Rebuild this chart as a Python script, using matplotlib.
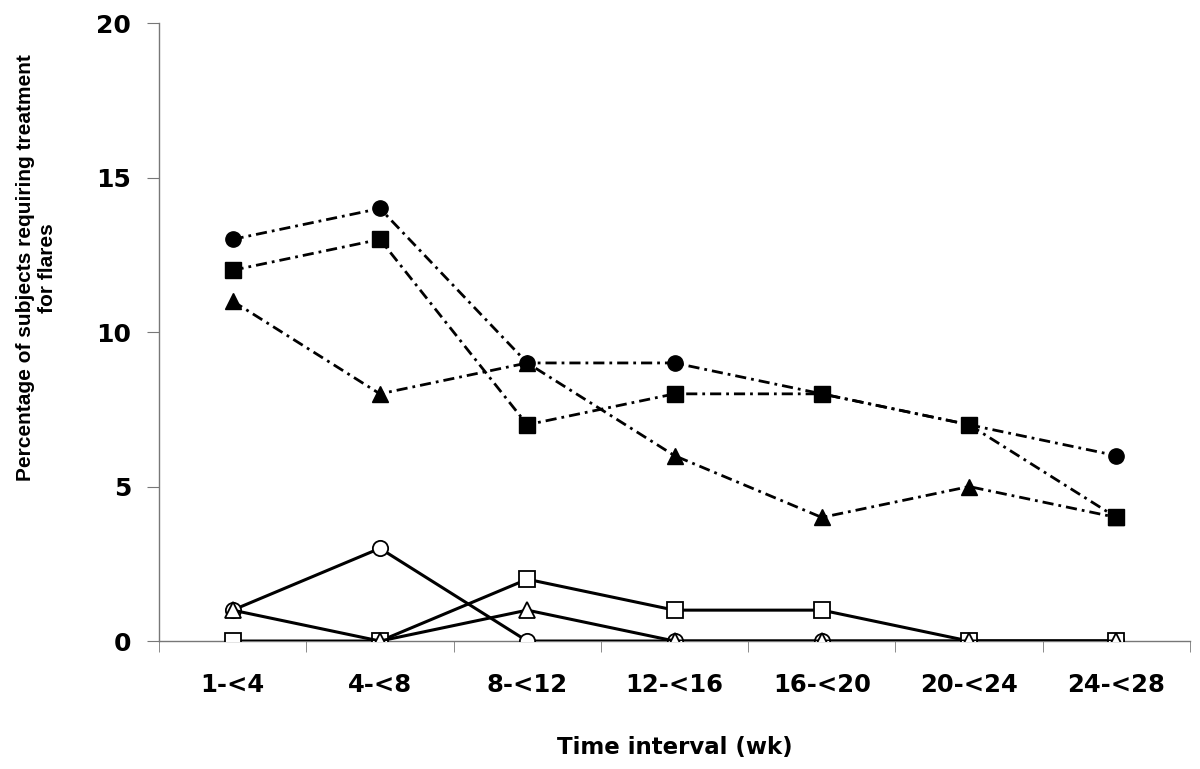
import numpy as np
import matplotlib.pyplot as plt
from matplotlib import font_manager

intervals = ['1-<4', '4-<8', '8-<12', '12-<16', '16-<20', '20-<24', '24-<28']

# filled markers, dash-dot lines
circle_filled = [13, 14, 9, 9, 8, 7, 6]
square_filled = [12, 13, 7, 8, 8, 7, 4]
triangle_filled = [11, 8, 9, 6, 4, 5, 4]

# open markers, solid lines
circle_open = [1, 3, 0, 0, 0, 0, 0]
square_open = [0, 0, 2, 1, 1, 0, 0]
triangle_open = [1, 0, 1, 0, 0, 0, 0]

x = np.arange(len(intervals))

# the y label in the picture is narrow, use a narrow face if there is one
names = {f.name for f in font_manager.fontManager.ttflist}
if 'Liberation Sans Narrow' in names:
    ylab_font, ylab_size = 'Liberation Sans Narrow', 19
else:
    ylab_font, ylab_size = 'Liberation Sans', 15

fig = plt.figure(figsize=(12, 7.69), dpi=100)
ax = fig.add_axes([0.1325, 0.1664, 0.8592, 0.8036])

dd = (4, 1.8, 1, 1.8)
for vals, mk in [(circle_filled, 'o'), (square_filled, 's'), (triangle_filled, '^')]:
    ax.plot(x, vals, color='black', lw=2, marker=mk, ms=11,
            mfc='black', mec='black', linestyle=(0, dd), zorder=3)

for vals, mk in [(circle_open, 'o'), (square_open, 's'), (triangle_open, '^')]:
    ax.plot(x, vals, color='black', lw=2.2, marker=mk, ms=11,
            mfc='white', mec='black', mew=1.3, linestyle='-', zorder=3)

ax.set_xlim(-0.5, len(intervals) - 0.5)
ax.set_ylim(0, 20)
ax.set_yticks([0, 5, 10, 15, 20])
ax.set_xticks(x)
ax.set_xticklabels(intervals)
ax.set_xticks(np.arange(-0.5, len(intervals)), minor=True)
ax.tick_params(axis='x', which='major', length=0, pad=23, labelsize=17.5)
ax.tick_params(axis='x', which='minor', length=8, color='#777777', direction='out')
ax.tick_params(axis='y', length=9, color='#777777', direction='out', pad=11, labelsize=18)
for lab in ax.get_xticklabels() + ax.get_yticklabels():
    lab.set_fontweight('bold')

for s in ['top', 'right']:
    ax.spines[s].set_visible(False)
for s in ['left', 'bottom']:
    ax.spines[s].set_color('#777777')
    ax.spines[s].set_linewidth(1)

ax.set_xlabel('Time interval (wk)', fontsize=16.5, fontweight='bold', labelpad=28)
fig.text(37 / 1200, 1 - 268 / 769, 'Percentage of subjects requiring treatment\nfor flares',
         rotation=90, ha='center', va='center', multialignment='center',
         family=ylab_font, fontsize=ylab_size, fontweight='bold', linespacing=1.2)

fig.savefig('out.png', dpi=100)
